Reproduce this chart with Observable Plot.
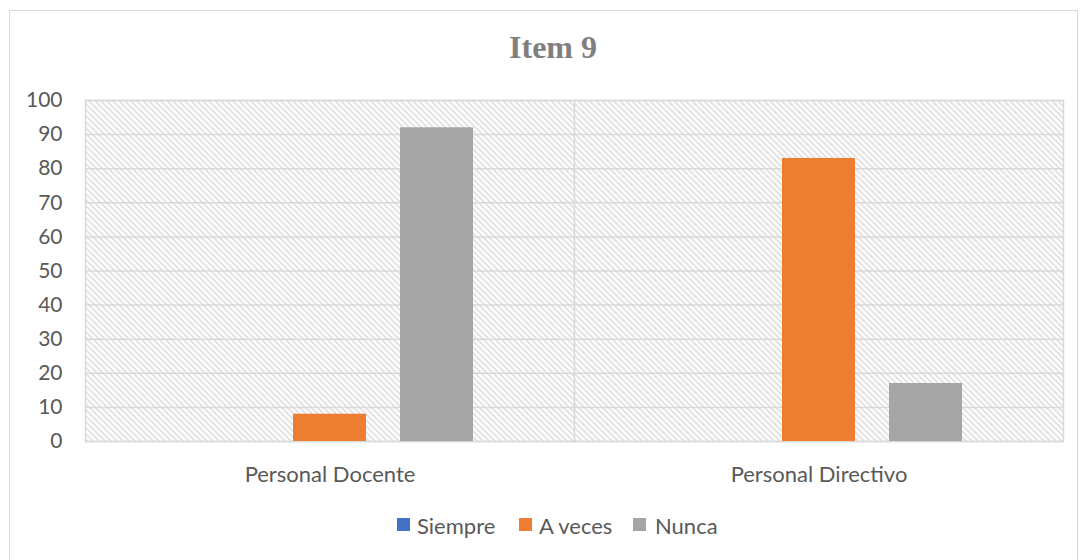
<!DOCTYPE html>
<html><head><meta charset="utf-8">
<script src="https://cdn.jsdelivr.net/npm/d3@7"></script>
<script src="https://cdn.jsdelivr.net/npm/@observablehq/plot@0.6"></script>
<style>
body{margin:0;background:#fff;font-family:Lato,"Open Sans",sans-serif;}
#wrap{position:relative;width:1086px;height:560px;overflow:hidden;}
#border{position:absolute;left:9px;top:10px;width:1069px;height:560px;border:1px solid #d9d9d9;box-sizing:border-box;}
#title{position:absolute;left:403px;width:300px;top:29px;text-align:center;font-family:"Liberation Serif","DejaVu Serif",serif;font-weight:bold;font-size:32px;color:#7f7f7f;}
#chart{position:absolute;left:0;top:0;}
.lg{position:absolute;top:513px;font-size:22px;color:#595959;line-height:26px;}
.sw{position:absolute;width:13px;height:13px;top:518px;}
</style></head>
<body><div id="wrap"><div id="border"></div><div id="title">Item 9</div><div id="chart"></div><div id="legend"></div></div>
<script>
const categories = ["Personal Docente", "Personal Directivo"];
const series = ["Siempre", "A veces", "Nunca"];
const siempre = [0, 0];
const aVeces = [8, 83];
const nunca = [92, 17];
const colors = ["#4472C4", "#ED7D31", "#A5A5A5"];
const yTicks = [0, 10, 20, 30, 40, 50, 60, 70, 80, 90, 100];

const data = categories.flatMap((c, i) => [
  {cat: c, serie: series[0], value: siempre[i]},
  {cat: c, serie: series[1], value: aVeces[i]},
  {cat: c, serie: series[2], value: nunca[i]}
]);

const svg = Plot.plot({
  width: 1086, height: 500,
  marginTop: 100, marginBottom: 59, marginLeft: 85, marginRight: 23,
  style: {fontFamily: "Lato, 'Open Sans', sans-serif", color: "#595959", background: "transparent"},
  fx: {domain: categories, padding: 0, label: null},
  x: {domain: series, paddingInner: 0.318, paddingOuter: 0.944, axis: null},
  y: {domain: [0, 100], axis: null},
  color: {domain: series, range: colors},
  marks: [
    Plot.frame({fill: "url(#hatch)", stroke: "#d9d9d9", strokeWidth: 1.5}),
    Plot.gridY(yTicks, {stroke: "#d9d9d9", strokeOpacity: 1, strokeWidth: 1.5}),
    Plot.barY(data, {fx: "cat", x: "serie", y: "value", fill: "serie"}),
    Plot.axisY(yTicks, {tickSize: 0, tickPadding: 23, fontSize: 21, fill: "#595959", label: null}),
    Plot.axisFx({anchor: "bottom", tickSize: 0, tickPadding: 25, fontSize: 22, fill: "#595959", label: null})
  ]
});

const defs = d3.select(svg).insert("defs", ":first-child");
const pat = defs.append("pattern").attr("id", "hatch").attr("patternUnits", "userSpaceOnUse")
  .attr("width", 6).attr("height", 6);
pat.append("rect").attr("width", 6).attr("height", 6).attr("fill", "#ffffff");
pat.append("path").attr("d", "M0,0L6,6M-1,5L1,7M5,-1L7,1")
  .attr("stroke", "#d6d6d6").attr("stroke-width", 1.4);

document.getElementById("chart").appendChild(svg);

const legend = document.getElementById("legend");
const swX = [397, 519, 633];
const txX = [417, 539, 655];
series.forEach((s, i) => {
  const sw = document.createElement("div");
  sw.className = "sw"; sw.style.left = swX[i] + "px"; sw.style.background = colors[i];
  legend.appendChild(sw);
  const t = document.createElement("div");
  t.className = "lg"; t.style.left = txX[i] + "px"; t.textContent = s;
  legend.appendChild(t);
});
</script>
</body></html>
